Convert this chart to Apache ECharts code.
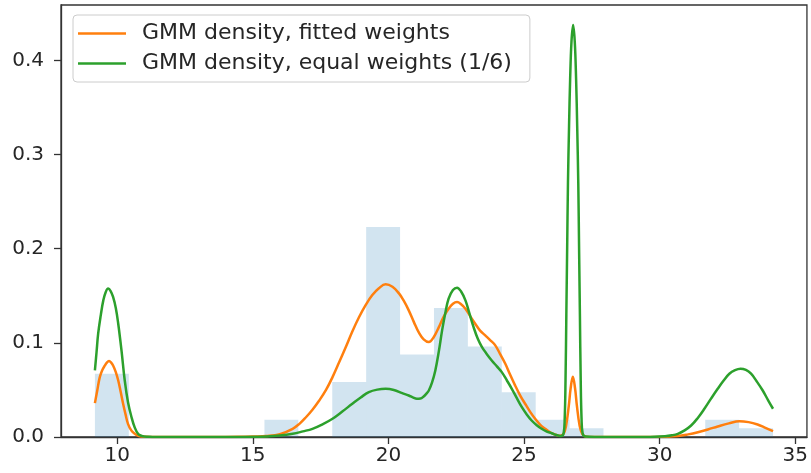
<!DOCTYPE html>
<html><head><meta charset="utf-8">
<script src="https://cdn.jsdelivr.net/npm/echarts@6/dist/echarts.min.js"></script>
<style>html,body{margin:0;padding:0;background:#fff}#c{width:811px;height:473px}</style>
</head><body><div id="c"></div>
<script>
// Histogram (density) bins
const binEdges = [9.18, 10.43, 11.68, 12.93, 14.18, 15.43, 16.68, 17.93, 19.18, 20.43, 21.68,
                  22.93, 24.18, 25.43, 26.68, 27.93, 29.18, 30.43, 31.68, 32.93, 34.18];
const binHeights = [0.0672, 0, 0, 0, 0, 0.0183, 0, 0.0583, 0.2231, 0.0877, 0.137,
                    0.0962, 0.0476, 0.0183, 0.0094, 0, 0, 0, 0.0183, 0.0094];

// GMM density, fitted weights (orange): [x, density]
const fittedPts = [
  [9.18, 0.036], [9.27, 0.050], [9.36, 0.0636], [9.45, 0.071], [9.55, 0.076], [9.62, 0.079], [9.70, 0.0806],
  [9.78, 0.079], [9.85, 0.076], [9.95, 0.069], [10.04, 0.060], [10.13, 0.048], [10.22, 0.0353], [10.31, 0.024],
  [10.40, 0.014], [10.52, 0.007], [10.65, 0.0034], [10.78, 0.0013], [10.9, 0.0005], [11.2, 0.0001], [11.5, 0],
  [12.5, 0], [13.5, 0], [14.5, 0.0002], [15.0, 0.0005], [15.5, 0.001], [16.0, 0.003], [16.47, 0.0087],
  [16.72, 0.014], [16.96, 0.021], [17.2, 0.029], [17.45, 0.0388], [17.7, 0.050], [17.94, 0.0636], [18.18, 0.079],
  [18.43, 0.0955], [18.67, 0.112], [18.92, 0.1274], [19.16, 0.140], [19.40, 0.1505], [19.65, 0.158], [19.90, 0.1621],
  [20.15, 0.1595], [20.39, 0.1525], [20.57, 0.1445], [20.75, 0.1345], [20.94, 0.122], [21.12, 0.111], [21.30, 0.1037],
  [21.49, 0.1008], [21.67, 0.106], [21.86, 0.1167], [22.04, 0.128], [22.22, 0.1363], [22.38, 0.1415], [22.53, 0.1433],
  [22.68, 0.141], [22.84, 0.1363], [23.02, 0.128], [23.20, 0.1203], [23.38, 0.113], [23.57, 0.1079], [23.75, 0.103],
  [23.94, 0.0973], [24.12, 0.088], [24.31, 0.0778], [24.49, 0.066], [24.67, 0.0548], [24.86, 0.044], [25.04, 0.0353],
  [25.22, 0.027], [25.41, 0.0194], [25.6, 0.013], [25.78, 0.0087], [25.96, 0.005], [26.14, 0.0027], [26.3, 0.0013],
  [26.45, 0.003], [26.55, 0.012], [26.65, 0.033], [26.72, 0.052], [26.80, 0.064], [26.88, 0.052], [26.95, 0.033],
  [27.05, 0.012], [27.15, 0.003], [27.3, 0.0003], [27.6, 0], [28.5, 0], [29.5, 0], [30.2, 0.0003],
  [30.67, 0.001], [31.05, 0.0028], [31.41, 0.0051], [31.78, 0.008], [32.14, 0.0112], [32.55, 0.0145], [32.94, 0.0168],
  [33.28, 0.0158], [33.61, 0.0133], [33.9, 0.0098], [34.18, 0.0062]
];

// GMM density, equal weights (green): [x, density]
const equalPts = [
  [9.18, 0.0707], [9.24, 0.090], [9.30, 0.1097], [9.40, 0.130], [9.49, 0.1451], [9.58, 0.154], [9.67, 0.1576],
  [9.76, 0.155], [9.85, 0.1487], [9.95, 0.137], [10.04, 0.1203], [10.16, 0.092], [10.28, 0.060], [10.40, 0.037],
  [10.53, 0.021], [10.65, 0.010], [10.77, 0.0034], [10.9, 0.0012], [11.0, 0.0005], [11.3, 0.0001], [11.5, 0],
  [12.5, 0], [13.5, 0], [14.5, 0.0001], [15.5, 0.0006], [16.0, 0.0015], [16.47, 0.0034], [16.85, 0.006],
  [17.20, 0.0087], [17.57, 0.0135], [17.94, 0.0194], [18.3, 0.027], [18.67, 0.0353], [18.98, 0.042], [19.28, 0.0476],
  [19.59, 0.0503], [19.90, 0.0512], [20.2, 0.050], [20.51, 0.0466], [20.75, 0.0441], [20.9, 0.042], [21.05, 0.0406],
  [21.18, 0.0408], [21.30, 0.043], [21.40, 0.046], [21.49, 0.0494], [21.61, 0.058], [21.73, 0.0707], [21.86, 0.091],
  [21.98, 0.1132], [22.10, 0.132], [22.22, 0.1469], [22.38, 0.156], [22.53, 0.1586], [22.68, 0.1545], [22.84, 0.1451],
  [22.99, 0.131], [23.14, 0.1167], [23.30, 0.104], [23.45, 0.0955], [23.63, 0.088], [23.81, 0.0813], [24.0, 0.075],
  [24.18, 0.0689], [24.37, 0.060], [24.55, 0.0512], [24.74, 0.041], [24.92, 0.0317], [25.1, 0.024], [25.28, 0.0175],
  [25.47, 0.0125], [25.65, 0.0087], [25.84, 0.0058], [26.02, 0.004], [26.15, 0.0025], [26.26, 0.0016],
  [26.36, 0.001], [26.46, 0.004], [26.50, 0.02], [26.53, 0.06], [26.56, 0.13], [26.59, 0.20], [26.62, 0.27],
  [26.66, 0.33], [26.70, 0.38], [26.75, 0.42], [26.81, 0.4375], [26.87, 0.42], [26.92, 0.38], [26.96, 0.33],
  [27.00, 0.27], [27.03, 0.20], [27.06, 0.13], [27.09, 0.06], [27.12, 0.02], [27.16, 0.004], [27.26, 0.0005],
  [27.6, 0], [28.5, 0], [29.5, 0], [30.2, 0.0008], [30.45, 0.0018], [30.67, 0.0034], [30.92, 0.007],
  [31.16, 0.0122], [31.4, 0.020], [31.65, 0.030], [31.9, 0.041], [32.14, 0.0512], [32.36, 0.060], [32.57, 0.0672],
  [32.78, 0.071], [32.98, 0.0725], [33.18, 0.0712], [33.37, 0.0672], [33.58, 0.059], [33.80, 0.0494], [34.0, 0.039],
  [34.18, 0.030]
];

const xTicks = [10, 15, 20, 25, 30, 35];
const yTicks = [0.0, 0.1, 0.2, 0.3, 0.4];
const seriesNames = ['GMM density, fitted weights', 'GMM density, equal weights (1/6)'];

const FONT = 'DejaVu Sans';
const chart = echarts.init(document.getElementById('c'), null, {renderer: 'canvas'});

const histData = binHeights.map((h, i) => [binEdges[i], binEdges[i + 1], h]);

chart.setOption({
  animation: false,
  backgroundColor: '#ffffff',
  grid: {left: 61, right: 1, top: 5, bottom: 36, show: true, borderColor: '#333', borderWidth: 1.3, backgroundColor: 'transparent'},
  legend: {
    orient: 'vertical', left: 73, top: 15,
    data: seriesNames,
    icon: 'rect', itemWidth: 48, itemHeight: 2.5, itemGap: 3,
    padding: [5, 18, 5, 5],
    backgroundColor: 'rgba(255,255,255,0.8)', borderColor: '#cccccc', borderWidth: 1, borderRadius: 4,
    textStyle: {fontFamily: FONT, fontSize: 22, color: '#262626', lineHeight: 27, padding: [0, 0, 0, 11]}
  },
  xAxis: {
    type: 'value', min: 7.93, max: 35.43,
    splitLine: {show: false},
    axisLine: {show: true, onZero: false, lineStyle: {color: '#333', width: 1.3}},
    axisTick: {show: true, length: 7, customValues: xTicks, lineStyle: {color: '#333', width: 1.3}},
    axisLabel: {customValues: xTicks, margin: 9, fontFamily: FONT, fontSize: 20, color: '#262626',
      formatter: v => String(v)}
  },
  yAxis: {
    type: 'value', min: 0, max: 0.4588,
    splitLine: {show: false},
    axisLine: {show: true, lineStyle: {color: '#333', width: 1.3}},
    axisTick: {show: true, length: 7, customValues: yTicks, lineStyle: {color: '#333', width: 1.3}},
    axisLabel: {customValues: yTicks, margin: 17, fontFamily: FONT, fontSize: 20, color: '#262626',
      formatter: v => v.toFixed(1)}
  },
  series: [
    {
      type: 'custom', name: 'hist', silent: true, z: 1,
      encode: {x: [0, 1], y: 2},
      data: histData,
      renderItem: function (params, api) {
        const p0 = api.coord([api.value(0), 0]);
        const p1 = api.coord([api.value(1), api.value(2)]);
        return {type: 'rect', shape: {x: p0[0], y: p1[1], width: p1[0] - p0[0], height: p0[1] - p1[1]},
          style: {fill: 'rgba(31,119,180,0.2)'}};
      }
    },
    {
      type: 'line', name: seriesNames[0], data: fittedPts, smooth: 0.4,
      showSymbol: false, symbol: 'none', z: 3, color: '#ff7f0e',
      lineStyle: {color: '#ff7f0e', width: 2.5}
    },
    {
      type: 'line', name: seriesNames[1], data: equalPts, smooth: 0.4,
      showSymbol: false, symbol: 'none', z: 4, color: '#2ca02c',
      lineStyle: {color: '#2ca02c', width: 2.5}
    }
  ]
});
</script>
</body></html>
